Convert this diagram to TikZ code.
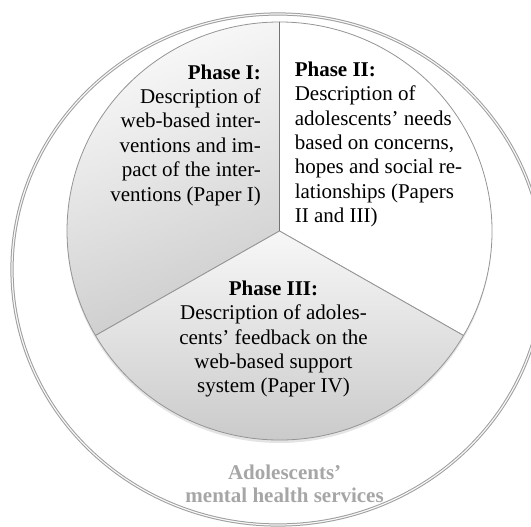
\documentclass[tikz,border=0pt]{standalone}
\usepackage{fontspec}
\setmainfont{Liberation Serif}
\definecolor{svcgray}{HTML}{A6A6A6}
\begin{document}
\begin{tikzpicture}[x=1pt,y=1pt,
  txt/.style={inner sep=0pt, font=\fontsize{21}{24.4}\selectfont},
  slice/.style={draw=black!42, line width=0.8pt, line join=round}]
\useasboundingbox (0,0) rectangle (531,527);
\coordinate (c) at (279.5,296);
\coordinate (o) at (278,257.5);
% outer ring
\draw[black!38, line width=3.2pt] (o) ellipse[x radius=266, y radius=255.5];
\draw[black!3, line width=1.2pt] (o) ellipse[x radius=266, y radius=255.5];
% soft shadow under pie
\fill[black!30, opacity=0.35] ([yshift=-3]c) ellipse[x radius=212.5, y radius=209];
% Phase I slice
\path[slice, top color=black!2, bottom color=black!20, shading angle=20]
  (c) -- ++(90:212.5 and 209) arc[start angle=90, end angle=210, x radius=212.5, y radius=209] -- cycle;
% Phase II slice
\path[slice, fill=white]
  (c) -- ++(330:212.5 and 209) arc[start angle=330, end angle=450, x radius=212.5, y radius=209] -- cycle;
% Phase III slice
\path[slice, top color=black!3, bottom color=black!23]
  (c) -- ++(210:212.5 and 209) arc[start angle=210, end angle=330, x radius=212.5, y radius=209] -- cycle;
% divider shadow
\draw[black!55, line width=1.6pt] (c) -- ++(0,209);
% texts
\node[txt, anchor=east, align=right] (p1) at (261,392)
  {\textbf{Phase I:}\\Description of\\web-based inter-\\ventions and im-\\pact of the inter-\\ventions (Paper I)};
\node[txt, anchor=west, align=left] (p2) at (294.6,382.5)
  {\textbf{Phase II:}\\Description of\\adolescents’ needs\\based on concerns,\\hopes and social re-\\lationships (Papers\\II and III)};
\node[txt, align=center] (p3) at (273.5,188)
  {\textbf{Phase III:}\\Description of adoles-\\cents’ feedback on the\\web-based support\\system (Paper IV)};
\node[inner sep=0pt, align=center, text=svcgray, font=\fontsize{21}{23}\selectfont\bfseries] (svc) at (284.6,43.5)
  {Adolescents’\\mental health services};
\end{tikzpicture}
\end{document}
